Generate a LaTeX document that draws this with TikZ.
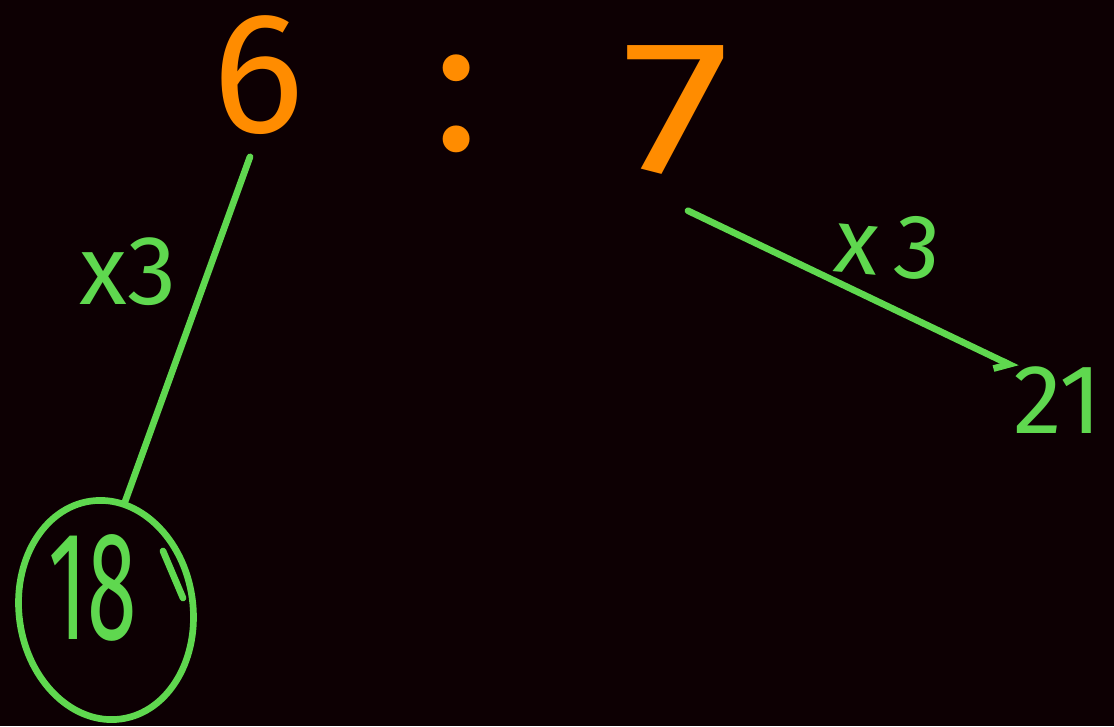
\documentclass[tikz,border=0pt]{standalone}
\usepackage{fontspec}
\setmainfont{Fira Sans}
\usepackage{xcolor}
\usepackage{graphicx}
\usetikzlibrary{calc,shapes.geometric,arrows.meta}
\definecolor{board}{HTML}{0D0003}
\definecolor{chalkorange}{HTML}{FF8C00}
\definecolor{chalkgreen}{HTML}{5FD84F}
\begin{document}
\begin{tikzpicture}[x=0.02cm,y=-0.02cm,
  orangenum/.style={chalkorange,inner sep=0pt,font=\fontsize{98}{98}\selectfont},
  greennum/.style={chalkgreen,inner sep=0pt},
  link/.style={chalkgreen,line width=3.8pt,line cap=round}]
% board
\fill[board] (0,0) rectangle (1114,726);
\useasboundingbox (0,0) rectangle (1114,726);
% ratio on top
\node[orangenum] (six) at (258,75) {6};
\node[orangenum,font=\fontsize{110}{110}\selectfont] (colon) at (457,104) {:};
\node[orangenum,font=\fontsize{108}{108}\selectfont] (seven) at (676,110) {\scalebox{1.3}[1]{7}};
% left side: circled result
\node[greennum,font=\fontsize{88}{88}\selectfont] (eighteen) at (93,588) {\scalebox{0.58}[1]{18}};
\node[draw=chalkgreen,line width=3.8pt,ellipse,minimum width=3.48cm,minimum height=4.4cm,
  rotate=8] (ring) at (106,610) {};
\draw[link] (163,551) -- (183,598);
\draw[link] ($(six.south)+(-8,22)$) -- (ring.72);
\node[greennum,font=\fontsize{56}{56}\selectfont] (lefttimes) at (128,272) {x3};
% right side: arrow to result
\node[greennum,font=\fontsize{56}{56}\selectfont] (twentyone) at (1058,400) {21};
\draw[link,-{Straight Barb[length=7pt,width=12pt,right]}]
  ($(seven.south)+(12,36)$) -- ($(twentyone.north west)+(4,2)$);
\node[greennum,font=\fontsize{52}{52}\selectfont,rotate=-5] (righttimes) at (888,246) {x\,3};
\end{tikzpicture}
\end{document}
